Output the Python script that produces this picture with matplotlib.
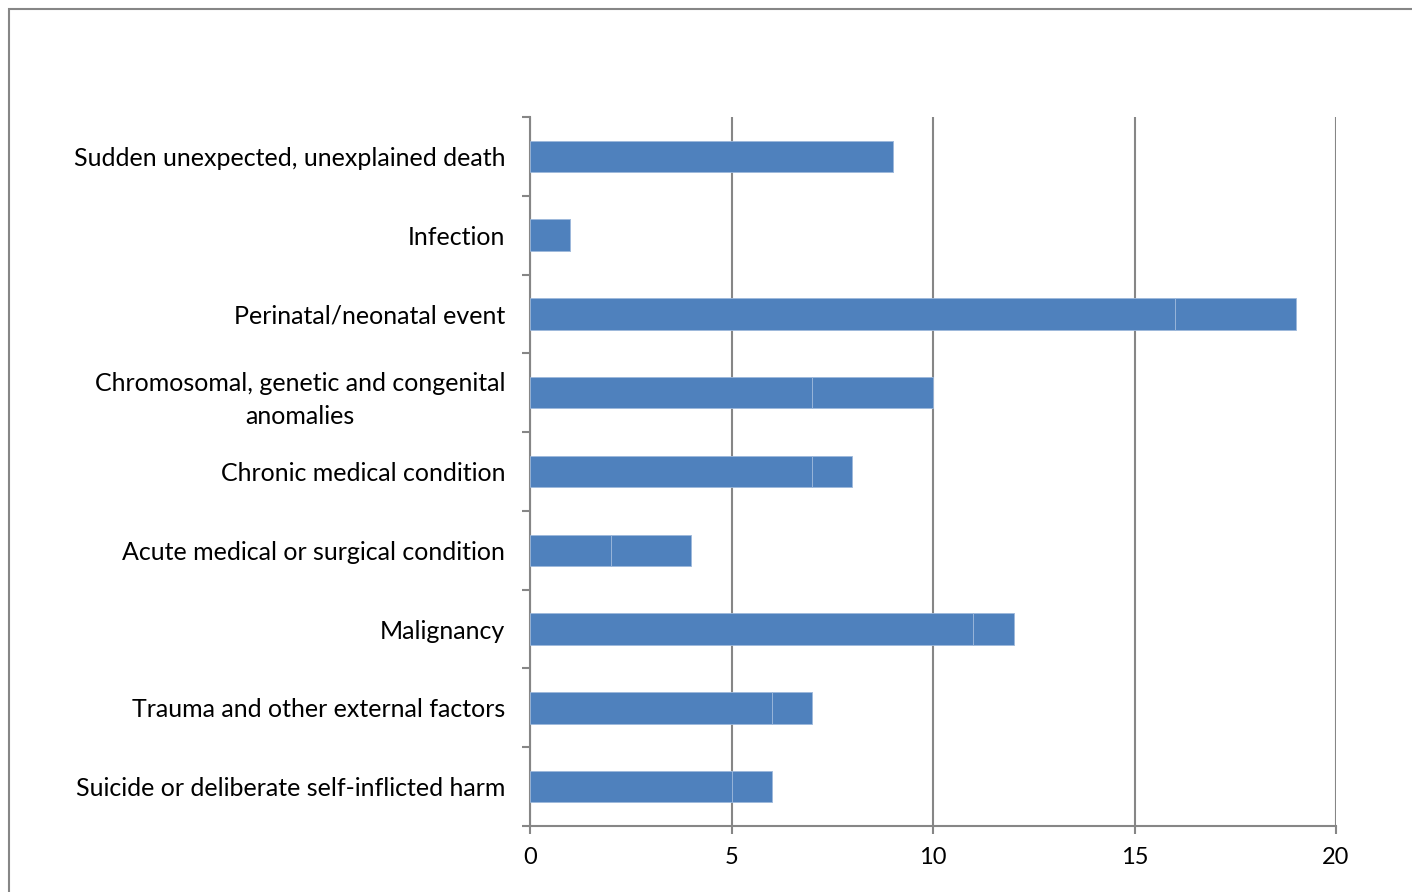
import matplotlib.pyplot as plt
from matplotlib.patches import Rectangle

categories = [
    'Sudden unexpected, unexplained death',
    'Infection',
    'Perinatal/neonatal event',
    'Chromosomal, genetic and congenital\nanomalies',
    'Chronic medical condition',
    'Acute medical or surgical condition',
    'Malignancy',
    'Trauma and other external factors',
    'Suicide or deliberate self-inflicted harm',
]
# two stacked segments of the same colour
part1 = [9, 1, 16, 7, 7, 2, 11, 6, 5]
part2 = [0, 0, 3, 3, 1, 2, 1, 1, 1]
x_ticks = [0, 5, 10, 15, 20]

plt.rcParams['font.family'] = ['Lato', 'DejaVu Sans']

fig = plt.figure(figsize=(14.12, 8.92), dpi=100)
ax = fig.add_axes([0.3754, 0.0740, 0.5708, 0.7948])

ypos = list(range(len(categories)))
bar_color = '#4F81BD'
ax.barh(ypos, part1, height=0.4, color=bar_color, edgecolor='#9DB8DB', linewidth=0.6, zorder=3)
ax.barh(ypos, part2, left=part1, height=0.4, color=bar_color, edgecolor='#9DB8DB', linewidth=0.6, zorder=3)

ax.set_xlim(0, 20)
ax.set_ylim(len(categories) - 0.5, -0.5)
ax.set_xticks(x_ticks)
ax.set_xticklabels([str(t) for t in x_ticks], fontsize=17)

ax.set_yticks(ypos)
ax.set_yticklabels(categories, fontsize=18, multialignment='center', linespacing=1.55)
ax.tick_params(axis='y', which='major', length=0, pad=18)
ax.set_yticks([i - 0.5 for i in range(len(categories) + 1)], minor=True)
ax.tick_params(axis='y', which='minor', length=6, width=1.5, color='#868686')
ax.tick_params(axis='x', length=6, width=1.5, color='#868686', pad=9)

ax.grid(axis='x', color='#868686', linewidth=1.5, zorder=0)
ax.set_axisbelow(True)
for side in ['top', 'right']:
    ax.spines[side].set_visible(False)
for side in ['left', 'bottom']:
    ax.spines[side].set_color('#868686')
    ax.spines[side].set_linewidth(1.5)

# outer chart frame (cut off at right and bottom)
fig.patches.append(Rectangle((9 / 1412, -0.1), 1.2, 1.1 - 9 / 892,
                             transform=fig.transFigure, fill=False,
                             edgecolor='#868686', linewidth=1.5))

fig.savefig('out.png', dpi=100)
